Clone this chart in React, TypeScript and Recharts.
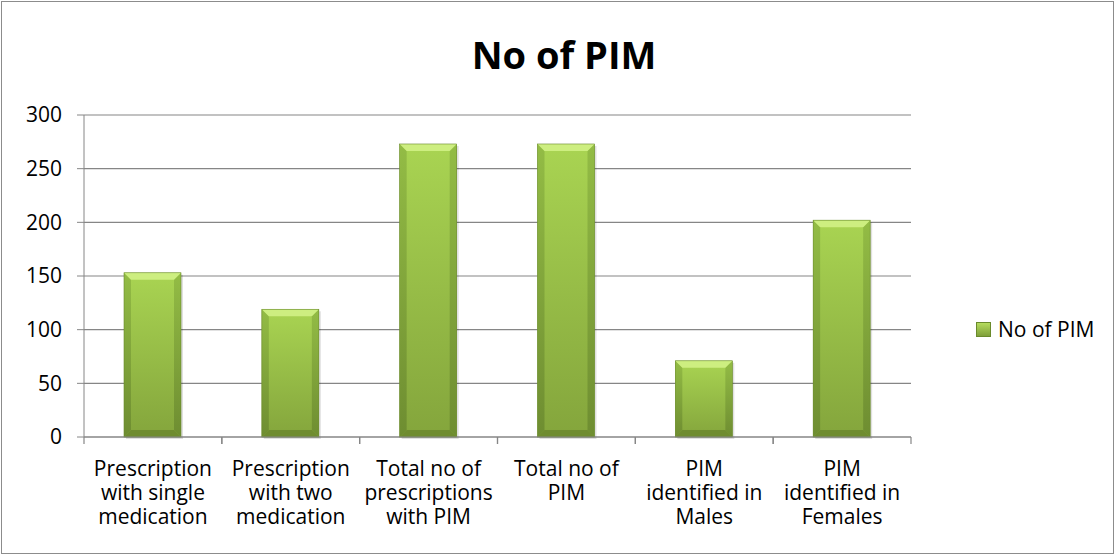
import React from "react";
import {
  BarChart, Bar, XAxis, YAxis, CartesianGrid,
} from "recharts";

const categories = [
  "Prescription\nwith single\nmedication",
  "Prescription\nwith two\nmedication",
  "Total no of\nprescriptions\nwith PIM",
  "Total no of\nPIM",
  "PIM\nidentified in\nMales",
  "PIM\nidentified in\nFemales",
];
const pimCounts = [153, 119, 273, 273, 71, 202];
const yTicks = [0, 50, 100, 150, 200, 250, 300];
const seriesName = "No of PIM";

const data = categories.map((name, i) => ({ name, pim: pimCounts[i] }));

const FONT = "'Open Sans', 'Noto Sans', sans-serif";
const AXIS = "#868686";
const PLOT_W = 827;

// Excel-style bevelled bar: gradient body with light top and darker sides
const BevelBar = (props: any) => {
  const { x, y, width, height } = props;
  if (!height || height <= 0) return null;
  const b = Math.min(7, width / 6, height / 3);
  return (
    <g>
      <rect x={x + 2} y={y + 2} width={width} height={height} fill="rgba(0,0,0,0.12)" />
      <rect x={x} y={y} width={width} height={height} fill="url(#barBody)" />
      <polygon points={`${x},${y} ${x + b},${y + b} ${x + b},${y + height - b} ${x},${y + height}`} fill="url(#barSide)" />
      <polygon
        points={`${x + width},${y} ${x + width - b},${y + b} ${x + width - b},${y + height - b} ${x + width},${y + height}`}
        fill="url(#barSide)"
      />
      <polygon points={`${x},${y} ${x + width},${y} ${x + width - b},${y + b} ${x + b},${y + b}`} fill="#cdee80" />
      <polygon
        points={`${x},${y + height} ${x + width},${y + height} ${x + width - b},${y + height - b} ${x + b},${y + height - b}`}
        fill="#6f8c30"
      />
      <rect x={x} y={y} width={width} height={height} fill="none" stroke="#6a8a2c" strokeWidth={0.6} />
    </g>
  );
};

// multi-line category label plus Excel-style tick marks on the band edges
const CategoryTick = (props: any) => {
  const { x, y, payload } = props;
  const half = payload?.offset ? payload.offset : PLOT_W / categories.length / 2;
  const lines = String(payload.value).split("\n");
  return (
    <g transform={`translate(${x},${y})`}>
      <line x1={-half} x2={-half} y1={0} y2={7} stroke={AXIS} strokeWidth={1.2} />
      <line x1={half} x2={half} y1={0} y2={7} stroke={AXIS} strokeWidth={1.2} />
      <text textAnchor="middle" fontFamily={FONT} fontSize={21} fill="#000">
        {lines.map((line, i) => (
          <tspan key={i} x={0} y={39 + i * 24}>
            {line}
          </tspan>
        ))}
      </text>
    </g>
  );
};

export default function App() {
  return (
    <div
      style={{
        position: "absolute",
        left: 0,
        top: 0,
        width: 1115,
        height: 556,
        background: "#fff",
        overflow: "hidden",
      }}
    >
      <div
        style={{
          position: "absolute",
          left: 1,
          top: 1,
          width: 1111,
          height: 551,
          border: "1px solid #8c8c8c",
        }}
      />
      <div
        style={{
          position: "absolute",
          left: 0,
          top: 31,
          width: 1128,
          textAlign: "center",
          fontFamily: FONT,
          fontWeight: 700,
          fontSize: 38,
          lineHeight: "46px",
          color: "#000",
        }}
      >
        No of PIM
      </div>
      <div style={{ position: "absolute", left: 0, top: 0 }}>
        <BarChart
          width={1115}
          height={556}
          data={data}
          margin={{ top: 115, right: 204, bottom: 0, left: 0 }}
          barSize={57}
        >
          <defs>
            <linearGradient id="barBody" x1="0" y1="0" x2="0" y2="1">
              <stop offset="0%" stopColor="#a9d452" />
              <stop offset="100%" stopColor="#84a53c" />
            </linearGradient>
            <linearGradient id="barSide" x1="0" y1="0" x2="0" y2="1">
              <stop offset="0%" stopColor="#93bc45" />
              <stop offset="100%" stopColor="#6e8d31" />
            </linearGradient>
          </defs>
          <CartesianGrid vertical={false} stroke={AXIS} strokeWidth={1.2} />
          <XAxis
            dataKey="name"
            interval={0}
            stroke={AXIS}
            tickLine={false}
            tickSize={0}
            tickMargin={0}
            height={119}
            tick={<CategoryTick />}
          />
          <YAxis
            domain={[0, 300]}
            ticks={yTicks}
            width={84}
            tickSize={7}
            tickMargin={15}
            stroke={AXIS}
            tick={{ fill: "#000", fontFamily: FONT, fontSize: 21 }}
          />
          <Bar
            dataKey="pim"
            name={seriesName}
            shape={<BevelBar />}
            isAnimationActive={false}
          />
        </BarChart>
      </div>
      <div
        style={{
          position: "absolute",
          left: 976,
          top: 316,
          display: "flex",
          alignItems: "center",
          fontFamily: FONT,
          fontSize: 21,
          lineHeight: "26px",
          color: "#000",
        }}
      >
        <span
          style={{
            width: 13,
            height: 13,
            display: "inline-block",
            background: "linear-gradient(#b5dc5e, #7f9f3a)",
            border: "1px solid #6a8a2c",
            marginRight: 7,
          }}
        />
        <span>{seriesName}</span>
      </div>
    </div>
  );
}
